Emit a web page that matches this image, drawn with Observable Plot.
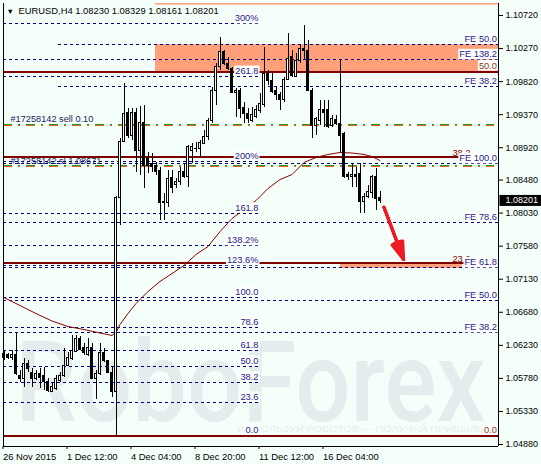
<!DOCTYPE html>
<html><head><meta charset="utf-8">
<script src="https://cdn.jsdelivr.net/npm/d3@7"></script>
<script src="https://cdn.jsdelivr.net/npm/@observablehq/plot@0.6"></script>
<style>
html,body{margin:0;padding:0;background:#F5FFFA;}
#chart svg{display:block;}
</style></head><body>
<div id="chart"></div>
<script>
// ---- Data ----
const symbol = "EURUSD";
const period = "H4";
const open = [
1.06115,1.06101,1.06055,1.06105,1.05819,1.05778,1.05982,1.05860,1.05778,1.05833,
1.05819,1.05737,1.05601,1.05642,1.05751,1.05806,1.05955,1.06050,1.06146,1.06323,
1.06200,1.06105,1.06200,1.05778,1.05833,1.06132,1.06010,1.05860,1.05588,1.08229,
1.08995,1.09386,1.09086,1.09386,1.08882,1.09250,1.08773,1.08705,1.08678,1.08610,
1.08161,1.08161,1.08514,1.08406,1.08450,1.08587,1.08519,1.08882,1.08896,1.08909,
1.08973,1.09063,1.09290,1.09699,1.10016,1.10220,1.10062,1.09994,1.09662,1.09699,
1.09463,1.09382,1.09290,1.09335,1.09417,1.09495,1.09926,1.09835,1.09699,1.09631,
1.09563,1.09844,1.10152,1.09880,1.10107,1.10266,1.10243,1.09699,1.09222,1.09290,
1.09427,1.09427,1.09209,1.09304,1.09246,1.09109,1.08542,1.08528,1.08555,1.08565,
1.08178,1.08246,1.08297,1.08519,1.08230];
const high = [
1.06159,1.06119,1.06159,1.06391,1.05887,1.06050,1.06023,1.05914,1.05887,1.05914,
1.05928,1.05778,1.05710,1.05819,1.05860,1.06187,1.06132,1.06364,1.06364,1.06350,
1.06255,1.06323,1.06255,1.05887,1.06255,1.06187,1.06023,1.05928,1.08256,1.09045,
1.09790,1.09454,1.09454,1.09454,1.09481,1.09495,1.08855,1.08841,1.08719,1.08651,
1.08297,1.08610,1.08610,1.08501,1.08655,1.08705,1.08950,1.08977,1.08991,1.09018,
1.09154,1.09318,1.09744,1.10062,1.10424,1.10243,1.10152,1.10016,1.09726,1.09722,
1.09540,1.09454,1.09472,1.09495,1.09654,1.10288,1.09971,1.09926,1.09744,1.09676,
1.09880,1.10471,1.10243,1.10198,1.10311,1.10584,1.10379,1.09722,1.09335,1.09563,
1.09563,1.09563,1.09359,1.09359,1.10107,1.09131,1.08587,1.08701,1.08655,1.08701,
1.08293,1.08406,1.08542,1.08637,1.08329];
const low = [
1.06023,1.06037,1.06023,1.05819,1.05724,1.05656,1.05860,1.05656,1.05751,1.05642,
1.05615,1.05588,1.05588,1.05615,1.05724,1.05792,1.05942,1.06023,1.06132,1.06159,
1.06091,1.06078,1.05765,1.05492,1.05819,1.05996,1.05846,1.05520,1.04975,1.07861,
1.08991,1.09045,1.09018,1.08583,1.08542,1.08365,1.08569,1.08583,1.08542,1.07929,
1.07929,1.08106,1.08297,1.08365,1.08406,1.08501,1.08382,1.08705,1.08855,1.08791,
1.08964,1.09018,1.09250,1.09495,1.09971,1.10039,1.09971,1.09654,1.09335,1.09314,
1.09246,1.09246,1.09267,1.09314,1.09382,1.09472,1.09767,1.09654,1.09563,1.09427,
1.09540,1.09835,1.09880,1.09872,1.10062,1.10107,1.09689,1.09041,1.09086,1.09222,
1.09199,1.09177,1.09199,1.09222,1.08859,1.08497,1.08474,1.08382,1.08382,1.08020,
1.08020,1.08225,1.08225,1.08065,1.08161];
const close = [
1.06055,1.06064,1.06105,1.05833,1.05765,1.05982,1.05914,1.05765,1.05833,1.05792,
1.05737,1.05615,1.05656,1.05778,1.05806,1.05955,1.06064,1.06159,1.06323,1.06173,
1.06132,1.06200,1.05778,1.05833,1.06132,1.06010,1.05860,1.05588,1.08229,1.08995,
1.09382,1.09086,1.09386,1.08882,1.09250,1.08678,1.08678,1.08655,1.08583,1.08161,
1.08188,1.08501,1.08365,1.08450,1.08587,1.08519,1.08927,1.08936,1.08909,1.08981,
1.09063,1.09290,1.09699,1.10016,1.10220,1.10062,1.09994,1.09662,1.09699,1.09450,
1.09382,1.09314,1.09359,1.09427,1.09518,1.09926,1.09835,1.09676,1.09631,1.09563,
1.09844,1.10130,1.09903,1.10107,1.10266,1.10234,1.09699,1.09222,1.09314,1.09427,
1.09390,1.09199,1.09314,1.09246,1.09086,1.08519,1.08519,1.08555,1.08519,1.08178,
1.08246,1.08314,1.08519,1.08225,1.08201];

// moving average (at bar indices)
const maIdx = [0,4,8,12,16,20,24,27,28,29,31,33,36,39,42,45,48,51,54,57,60,63,66,69,72,75,78,81,84,87,90,92,94];
const maVal = [1.06881,1.06772,1.06663,1.06561,1.06486,1.06445,1.06398,1.06364,1.06404,1.06513,1.06663,1.06799,1.06963,1.07099,1.07208,1.07317,1.07466,1.07575,1.07779,1.07956,1.08079,1.08201,1.08365,1.08487,1.08555,1.08719,1.08787,1.08828,1.08855,1.08848,1.08828,1.08800,1.08746];

// axis ticks
const xTickIdx = [0,16,32,48,64,80];
const xTickLabels = ["26 Nov 2015","1 Dec 12:00","4 Dec 04:00","8 Dec 20:00","11 Dec 12:00","16 Dec 04:00"];
const yTicks = [1.10720,1.10270,1.09820,1.09370,1.08920,1.08480,1.08030,1.07580,1.07130,1.06680,1.06230,1.05780,1.05330,1.04880];

// Fibonacci expansion (left, labelled at its end bar)
const fibStartIdx = -0.125, fibEndIdx = 63.625;
const fibLabels = ["300%","261.8","200%","161.8","138.2%","123.6%","100.0","78.6","61.8","50.0","38.2","23.6","0.0"];
const fibPrices = [1.10607,1.09889,1.08736,1.08028,1.07585,1.07312,1.06881,1.06477,1.06159,1.05942,1.05728,1.05452,1.05002];

// FE levels (right)
const feLabels = ["FE 50.0","FE 138.2","FE 38.2","FE 100.0","FE 78.6","FE 61.8","FE 50.0","FE 38.2"];
const fePrices = [1.10325,1.10117,1.09753,1.08701,1.07902,1.07285,1.06840,1.06400];
const feFromIdx = [13.625,-0.125,13.625,-0.125,-0.125,-0.125,-0.125,-0.125];

// Fibonacci retracement (solid)
const retLabels = ["0.0","23.6","38.2","50.0"];
const retPrices = [1.05002,1.07344,1.08787,1.09957];

// zones
const zoneFrom = [37.875, 37.875, 84.125];
const zoneTo   = [123.625, 123.625, 114.625];
const zoneTop  = [1.10900, 1.10325, 1.07344];
const zoneBot  = [1.10862, 1.09957, 1.07276];

// orders
const orderPrices = [1.09236, 1.08671];
const orderLabels = ["#17258142 sell 0.10", "#17258142 sl 1.08671"];

// forecast arrow
const arrowFrom = {i: 95.0, p: 1.08110};
const arrowTo = {i: 99.9, p: 1.07398};

const watermark = "RoboForex";
const slogan = "ИСПОЛЬЗУЙ РОБОТОВ — ПОЛУЧАЙ ПРИБЫЛЬ";

// ---- Build rows ----
const candles = open.map((o, i) => ({i, o, h: high[i], l: low[i], c: close[i]}));
const ma = maIdx.map((i, k) => ({i, p: maVal[k]}));
const fibRows = fibLabels.map((l, k) => ({l, p: fibPrices[k]}));
const feRows = feLabels.map((l, k) => ({l, p: fePrices[k], from: feFromIdx[k]}));
const retRows = retLabels.map((l, k) => ({l, p: retPrices[k]}));
const zones = zoneFrom.map((f, k) => ({x1: f, x2: zoneTo[k], y1: zoneTop[k], y2: zoneBot[k]}));
const last = candles[candles.length - 1];
const fmt = d3.format(".5f");
const title = `${symbol},${period} ${fmt(last.o)} ${fmt(last.h)} ${fmt(last.l)} ${fmt(last.c)}`;

const xDom = [-0.125, 123.625];
const yDom = [1.048528, 1.108834];
const navy = "#000080";
const labelBlue = "#22228a";
const maroon = "#800000";
const dash = "3,3";

const svg = Plot.plot({
  width: 541, height: 464,
  marginLeft: 3, marginRight: 43, marginTop: 3, marginBottom: 18,
  x: {type: "linear", domain: xDom},
  y: {type: "linear", domain: yDom},
  style: {background: "#F5FFFA", fontFamily: "'Liberation Sans', Arial, sans-serif", fontSize: "9px", color: "black", overflow: "visible"},
  marks: [
    Plot.rect(zones, {x1: "x1", x2: "x2", y1: "y1", y2: "y2", fill: "#FFA07A", clip: true}),
    Plot.text([watermark], {frameAnchor: "bottom-left", dx: 12, dy: -26, text: d => d, textAnchor: "start", lineAnchor: "bottom", fontSize: 96, fontFamily: "Roboto", fontWeight: 500, fill: "#e4ecee"}),
    Plot.text([slogan], {frameAnchor: "bottom-left", dx: 234, dy: -15, text: d => d, textAnchor: "start", lineAnchor: "bottom", fontSize: 8.5, fill: "#e6eded"}),
    // fib expansion dashed levels
    Plot.ruleY(fibRows, {y: "p", x1: () => fibStartIdx, x2: () => fibEndIdx, stroke: navy, strokeDasharray: dash, shapeRendering: "crispEdges"}),
    // FE levels
    Plot.ruleY(feRows, {y: "p", x1: "from", x2: () => xDom[1], stroke: navy, strokeDasharray: dash, shapeRendering: "crispEdges"}),
    // order lines
    Plot.ruleY(orderPrices, {y: d => d, stroke: "#e8641e", strokeDasharray: "9,6,2,6", shapeRendering: "crispEdges", dy: 0.5, x2: () => 122.5, x1: () => xDom[0]}),
    Plot.ruleY(orderPrices, {y: d => d, stroke: "#1f9a1f", strokeDasharray: "9,6,2,6", shapeRendering: "crispEdges", dy: -0.5, x2: () => 122.5, x1: () => xDom[0]}),
    // retracement solid
    Plot.ruleY(retRows, {y: "p", stroke: maroon, strokeWidth: 2, shapeRendering: "crispEdges"}),
    // moving average
    Plot.line(ma, {x: "i", y: "p", stroke: "#8b0000", strokeWidth: 1}),
    // candles
    Plot.ruleX(candles, {x: "i", y1: "l", y2: "h", stroke: "black", shapeRendering: "crispEdges"}),
    Plot.rect(candles, {x1: d => d.i - 0.25, x2: d => d.i + 0.25, y1: "o", y2: "c", fill: d => d.c >= d.o ? "white" : "black", stroke: "black", shapeRendering: "crispEdges"}),
    // arrow
    ...[36, 26, 16, 7].map(a => Plot.arrow([0], {x1: () => arrowFrom.i, y1: () => arrowFrom.p, x2: () => arrowTo.i, y2: () => arrowTo.p, stroke: "#ed1c24", strokeWidth: 3, headAngle: a, headLength: 14})),
    // labels
    Plot.text(retRows.filter(d => d.l === "23.6" || d.l === "38.2"), {y: "p", frameAnchor: "right", dx: -28, dy: -1.5, text: "l", textAnchor: "end", lineAnchor: "bottom", fill: maroon, fontSize: 9.3}),
    Plot.text(fibRows, {x: () => fibEndIdx, y: "p", text: "l", textAnchor: "end", lineAnchor: "bottom", dy: -2.5, fill: labelBlue, fontSize: 9.3, ariaLabel: () => "boxed"}),
    Plot.text(feRows, {y: "p", frameAnchor: "right", dx: -1.5, text: "l", textAnchor: "end", lineAnchor: "bottom", dy: -2.5, fill: labelBlue, fontSize: 9.3, ariaLabel: () => "boxed"}),
    Plot.text(retRows.filter(d => d.l === "0.0" || d.l === "50.0"), {y: "p", frameAnchor: "right", dx: -1.5, text: "l", textAnchor: "end", lineAnchor: "bottom", dy: -3, fill: "#8b3a1a", fontSize: 9.3, ariaLabel: () => "boxed"}),
    Plot.text(orderPrices, {y: d => d, frameAnchor: "left", dx: 7, dy: -2.5, text: d => orderLabels[orderPrices.indexOf(d)], textAnchor: "start", lineAnchor: "bottom", fill: "#1a1a5e", fontSize: 9.2}),
    // frame
    Plot.ruleX(xDom, {stroke: "black", shapeRendering: "crispEdges"}),
    Plot.ruleY([yDom[0]], {stroke: "black", shapeRendering: "crispEdges"}),
    // axes
    Plot.axisY({anchor: "right", ticks: yTicks, tickFormat: fmt, tickSize: 4, tickPadding: 3, fontSize: 9, label: null}),
    Plot.axisX({anchor: "bottom", ticks: xTickIdx, tickFormat: d => xTickLabels[xTickIdx.indexOf(d)], tickSize: 3, tickPadding: 4, textAnchor: "start", dx: -1, fontSize: 9.4, label: null}),
    // current price
    Plot.text([last.c], {y: d => d, frameAnchor: "right", dx: 7, text: d => fmt(d), textAnchor: "start", fill: "white", fontSize: 9, ariaLabel: () => "pricebox"}),
    // title
    Plot.text(["\u25BC"], {frameAnchor: "top-left", dx: 3, dy: 10.5, text: d => d, textAnchor: "start", lineAnchor: "bottom", fontSize: 7.5, fill: "black"}),
    Plot.text([title], {frameAnchor: "top-left", dx: 15, dy: 10.8, text: d => d, textAnchor: "start", lineAnchor: "bottom", fontSize: 9.4, fill: "black"})
  ]
});
document.getElementById("chart").appendChild(svg);

// label background boxes
d3.select(svg).selectAll("text").each(function() {
  const al = this.getAttribute("aria-label");
  const t = this.textContent;
  if (al === "boxed" || al === "pricebox") {
    const b = this.getBBox();
    const r = document.createElementNS("http://www.w3.org/2000/svg", "rect");
    if (al === "boxed") {
      r.setAttribute("x", b.x - 1); r.setAttribute("y", b.y - 0.5);
      r.setAttribute("width", b.width + 2); r.setAttribute("height", b.height + 0.5);
      r.setAttribute("fill", "white");
    } else {
      r.setAttribute("x", -6); r.setAttribute("y", b.y - 0.5);
      r.setAttribute("width", 44); r.setAttribute("height", b.height + 1);
      r.setAttribute("fill", "black");
    }
    const tr = this.getAttribute("transform");
    if (tr) r.setAttribute("transform", tr);
    this.parentNode.insertBefore(r, this);
  }
  if (t === watermark) {
    this.setAttribute("textLength", 470); this.setAttribute("lengthAdjust", "spacingAndGlyphs");
    this.setAttribute("transform", (this.getAttribute("transform") || "") + " scale(1,1.17)");
  }
  if (t === slogan) { this.setAttribute("textLength", 246); this.setAttribute("lengthAdjust", "spacingAndGlyphs"); }
});
</script>
</body></html>
